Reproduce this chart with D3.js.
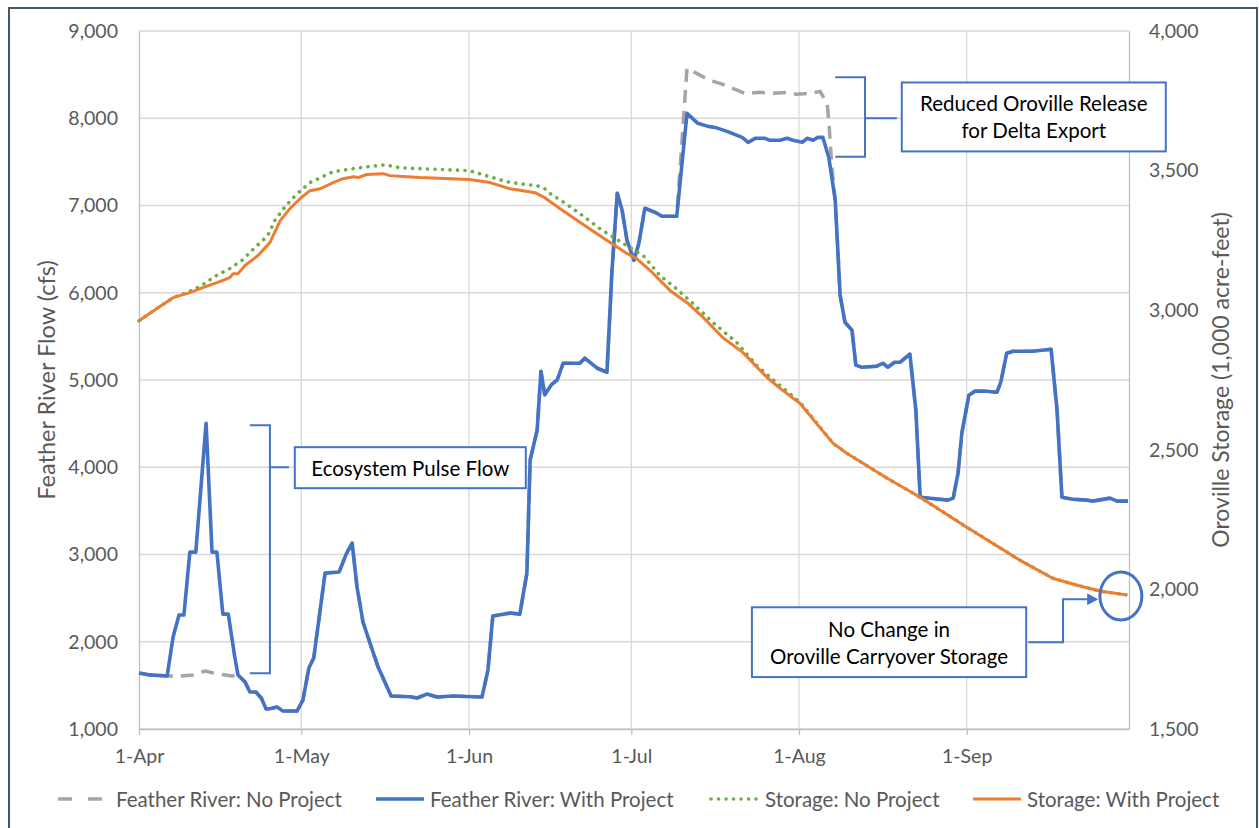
<!DOCTYPE html>
<html>
<head>
<meta charset="utf-8">
<script src="https://cdn.jsdelivr.net/npm/d3@7"></script>
<style>
  body { margin: 0; background: #fff; }
  text { font-family: Lato, "Open Sans", sans-serif; }
</style>
</head>
<body>
<svg id="chart" width="1259" height="828"></svg>
<script>
// x values are days counted from 1-Apr
const monthDays = [0, 30, 61, 91, 122, 153];
const monthLabels = ["1-Apr", "1-May", "1-Jun", "1-Jul", "1-Aug", "1-Sep"];
const flowTicks = [1000, 2000, 3000, 4000, 5000, 6000, 7000, 8000, 9000];
const storageTicks = [1500, 2000, 2500, 3000, 3500, 4000];

// Feather River flow with project (cfs)
const flowWithProject = [
  [0, 1641], [2, 1620], [5.2, 1607], [6.3, 2054], [7.4, 2306], [8.3, 2306],
  [9.4, 3027], [10.5, 3027], [12.4, 4505], [13.5, 3027], [14.4, 3027], [15.5, 2317],
  [16.5, 2317], [17.7, 1825], [18.3, 1620], [19.6, 1540], [20.5, 1424], [21.6, 1424],
  [22.6, 1355], [23.5, 1229], [24.4, 1235], [25.5, 1252], [26.6, 1206], [29.2, 1206],
  [30.3, 1332], [31.4, 1699], [32.3, 1813], [34.4, 2787], [37, 2800], [38.3, 3005],
  [39.4, 3130], [40.3, 2627], [41.4, 2226], [42.7, 1985], [44.2, 1710], [46.6, 1378],
  [50.1, 1370], [51.4, 1355], [53.2, 1400], [55.1, 1366], [58, 1378], [63.4, 1366],
  [64.5, 1676], [65.4, 2294], [68.6, 2329], [70.4, 2317], [71.7, 2787], [72.3, 4081],
  [73.6, 4425], [74.3, 5100], [75, 4830], [76.3, 4950], [77.3, 5000], [78.4, 5192],
  [81.5, 5192], [82.4, 5250], [84.7, 5135], [86.5, 5089], [87.4, 6223], [88.4, 7140],
  [89.3, 6945], [90.2, 6601], [91.5, 6372], [92.4, 6567], [93.5, 6968], [95.4, 6922],
  [96.7, 6876], [99.4, 6876], [101.3, 8056], [103.3, 7942], [105.2, 7907], [106.5, 7895],
  [108.7, 7850], [111.5, 7781], [112.6, 7724], [113.9, 7770], [115.7, 7770], [116.6, 7747],
  [118.5, 7747], [119.8, 7770], [120.9, 7747], [122.6, 7724], [123.5, 7770], [124.6, 7747],
  [125.5, 7781], [126.4, 7781], [127.5, 7552], [128.7, 7060], [129.6, 5971], [130.5, 5662],
  [131.8, 5570], [132.5, 5170], [133.6, 5147], [136.4, 5158], [137.5, 5192], [138.4, 5147],
  [139.7, 5204], [140.7, 5204], [142.5, 5296], [143.6, 4654], [144.4, 3657], [149.5, 3623],
  [150.5, 3646], [151.4, 3932], [152.1, 4391], [153.4, 4826], [154.5, 4872], [156.7, 4872],
  [158.6, 4860], [159.3, 4975], [160.4, 5307], [161.6, 5330], [165.2, 5330], [168.6, 5353],
  [169.7, 4654], [170.6, 3657], [172.6, 3634], [175.2, 3623], [176.3, 3612], [179.5, 3646],
  [180.8, 3612], [182.8, 3612]
];

// Feather River flow without project, where it differs from the project case
const flowNoProjectApr = [
  [5.2, 1607], [7.6, 1607], [10, 1620], [12.2, 1664], [14.6, 1630], [17.2, 1607], [18.3, 1620]
];
const flowNoProjectJul = [
  [99.4, 6876], [101.3, 8572], [103.1, 8514], [105.5, 8434], [107.4, 8400], [110.2, 8331],
  [112, 8285], [114.8, 8297], [116.6, 8285], [119.8, 8297], [121.6, 8274], [124, 8285],
  [125.9, 8308], [127.2, 8170], [127.5, 7976], [128.1, 7426], [128.7, 7060]
];

// Oroville storage (1,000 acre-feet)
const storageWithProject = [
  [0, 2962], [3.3, 3006], [6.3, 3045], [9.4, 3063], [11.8, 3081], [14.4, 3099],
  [16.8, 3117], [17.4, 3131], [18.3, 3131], [19.6, 3160], [22, 3196], [24.2, 3242],
  [24.8, 3267], [26.1, 3321], [27.9, 3364], [29.8, 3400], [31.6, 3428], [33.5, 3435],
  [35.9, 3457], [37.7, 3471], [39.6, 3478], [40.5, 3475], [42.1, 3486], [45.1, 3489],
  [46.4, 3482], [49.5, 3478], [51.9, 3475], [61, 3468], [64.9, 3457], [68.6, 3435],
  [71, 3428], [73.2, 3421], [75, 3403], [77.8, 3364], [80.2, 3332], [85.2, 3267],
  [90.2, 3203], [92, 3185], [94.5, 3142], [98.2, 3070], [101.3, 3027], [104.3, 2974],
  [107.9, 2902], [111.6, 2849], [116.1, 2759], [118.5, 2720], [122.2, 2666], [128.3, 2523],
  [130.9, 2487], [138.3, 2398], [144.4, 2330], [153, 2223], [162.8, 2105], [168.9, 2040],
  [173.4, 2015], [177.6, 1994], [182.6, 1980]
];
// storage without project, up to where it rejoins the project case
const storageNoProjectEarly = [
  [0, 2962], [3.3, 3006], [6.3, 3045], [8.5, 3060], [11.3, 3085], [14, 3121],
  [16.8, 3149], [19.2, 3181], [21.4, 3224], [23.8, 3267], [25.1, 3321], [27, 3371],
  [29.2, 3417], [31.6, 3457], [35.9, 3496], [39.6, 3507], [42.3, 3514], [45.5, 3521],
  [48.2, 3510], [51.9, 3507], [61, 3500], [68, 3460], [70.4, 3453], [73.6, 3446],
  [75, 3435], [76.5, 3410], [77.8, 3396], [81.5, 3346], [85.2, 3292], [89.5, 3239],
  [93.2, 3196], [96.3, 3124], [99.1, 3081], [102.4, 3024], [106.1, 2956], [110.5, 2884],
  [114.2, 2802], [116.3, 2766], [122.2, 2670]
];

const flowNoProject = flowWithProject
  .filter(d => !(d[0] >= 5.2 && d[0] <= 18.3) && !(d[0] >= 99.4 && d[0] <= 128.7))
  .concat(flowNoProjectApr, flowNoProjectJul)
  .sort((a, b) => a[0] - b[0]);
const storageNoProject = storageNoProjectEarly.concat(storageWithProject.filter(d => d[0] > 122.2));

const svg = d3.select("#chart");
const W = +svg.attr("width"), H = +svg.attr("height");
const m = { top: 31, right: 130, bottom: 99, left: 139 };

const x = d3.scaleLinear().domain([0, 183]).range([m.left, W - m.right]);
const yFlow = d3.scaleLinear().domain([1000, 9000]).range([H - m.bottom, m.top]);
const yStor = d3.scaleLinear().domain([1500, 4000]).range([H - m.bottom, m.top]);

const blue = "#4472C4", orange = "#ED7D31", green = "#70AD47", grey = "#A5A5A5";
const labelCol = "#595959";

// outer frame
svg.append("rect").attr("x", 9).attr("y", 8).attr("width", 1248).attr("height", 830)
  .attr("fill", "none").attr("stroke", "#44546A").attr("stroke-width", 2);

// grid
svg.append("g").selectAll("line").data(flowTicks).join("line")
  .attr("x1", m.left).attr("x2", W - m.right)
  .attr("y1", d => yFlow(d)).attr("y2", d => yFlow(d))
  .attr("stroke", "#d9d9d9").attr("stroke-width", 1.3);
svg.append("g").selectAll("line").data(monthDays.slice(1)).join("line")
  .attr("x1", d => x(d)).attr("x2", d => x(d))
  .attr("y1", m.top).attr("y2", H - m.bottom)
  .attr("stroke", "#d9d9d9").attr("stroke-width", 1.3);

// axes
const xAxis = svg.append("g").attr("transform", `translate(0,${H - m.bottom})`)
  .call(d3.axisBottom(x).tickValues(monthDays).tickFormat((d, i) => monthLabels[i])
    .tickSizeInner(6).tickSizeOuter(0).tickPadding(14));
const yAxisL = svg.append("g").attr("transform", `translate(${m.left},0)`)
  .call(d3.axisLeft(yFlow).tickValues(flowTicks).tickFormat(d3.format(",")).tickSize(0).tickPadding(21));
const yAxisR = svg.append("g").attr("transform", `translate(${W - m.right},0)`)
  .call(d3.axisRight(yStor).tickValues(storageTicks).tickFormat(d3.format(",")).tickSize(0).tickPadding(20));
[xAxis, yAxisL, yAxisR].forEach(g => {
  g.select(".domain").attr("stroke", "#bfbfbf").attr("stroke-width", 1.3);
  g.selectAll(".tick line").attr("stroke", "#bfbfbf").attr("stroke-width", 1.3);
  g.selectAll(".tick text").attr("fill", labelCol).style("font-size", "19.5px")
    .style("font-family", "Lato, sans-serif");
});

svg.append("text").attr("transform", `translate(46,${(m.top + H - m.bottom) / 2}) rotate(-90)`)
  .attr("text-anchor", "middle").attr("dominant-baseline", "central")
  .attr("fill", labelCol).style("font-size", "23.5px").text("Feather River Flow (cfs)");
svg.append("text").attr("transform", `translate(1220,${(m.top + H - m.bottom) / 2}) rotate(-90)`)
  .attr("text-anchor", "middle").attr("dominant-baseline", "central")
  .attr("fill", labelCol).style("font-size", "23px").text("Oroville Storage (1,000 acre-feet)");

// series
const flowLine = d3.line().x(d => x(d[0])).y(d => yFlow(d[1]));
const storLine = d3.line().x(d => x(d[0])).y(d => yStor(d[1]));

svg.append("path").datum(flowNoProject).attr("d", flowLine)
  .attr("fill", "none").attr("stroke", grey).attr("stroke-width", 3.5)
  .attr("stroke-dasharray", "13 8").attr("stroke-linejoin", "round");
svg.append("path").datum(flowWithProject).attr("d", flowLine)
  .attr("fill", "none").attr("stroke", blue).attr("stroke-width", 3.6)
  .attr("stroke-linejoin", "round");
svg.append("path").datum(storageNoProject).attr("d", storLine)
  .attr("fill", "none").attr("stroke", green).attr("stroke-width", 3.6)
  .attr("stroke-dasharray", "0.1 7.4").attr("stroke-linecap", "round");
svg.append("path").datum(storageWithProject).attr("d", storLine)
  .attr("fill", "none").attr("stroke", orange).attr("stroke-width", 3)
  .attr("stroke-linejoin", "round");

// callouts
const note = svg.append("g").attr("fill", "none").attr("stroke", blue).attr("stroke-width", 2);
function box(x0, y0, x1, y1, lines, lh) {
  note.append("rect").attr("x", x0).attr("y", y0).attr("width", x1 - x0).attr("height", y1 - y0)
    .attr("fill", "#fff");
  const cy = (y0 + y1) / 2 - (lines.length - 1) * lh / 2;
  lines.forEach((t, i) => {
    svg.append("text").attr("x", (x0 + x1) / 2).attr("y", cy + i * lh)
      .attr("text-anchor", "middle").attr("dominant-baseline", "central")
      .attr("fill", "#000").style("font-size", "20.5px").text(t);
  });
}

// pulse flow bracket
const pb = { left: x(20.5), mid: x(24.2), tip: x(27.7), top: yFlow(4480), bot: yFlow(1640), c: yFlow(4000) };
note.append("path").attr("d",
  `M${pb.left},${pb.top}H${pb.mid}V${pb.bot}H${pb.left}M${pb.mid},${pb.c}H${pb.tip}`);
box(x(28.8), yFlow(4230), x(71.5), yFlow(3760), ["Ecosystem Pulse Flow"], 0);

// reduced release bracket
const rb = { left: x(128.7), mid: x(134.2), tip: x(140.1), top: yFlow(8470), bot: yFlow(7560), c: yFlow(8000) };
note.append("path").attr("d",
  `M${rb.left},${rb.top}H${rb.mid}V${rb.bot}H${rb.left}M${rb.mid},${rb.c}H${rb.tip}`);
box(x(141), yFlow(8410), x(189.8), yFlow(7620), ["Reduced Oroville Release", "for Delta Export"], 27);

// carryover storage
const cx0 = x(164.4), cyA = yStor(1811), cxB = x(170.8), cyB = yStor(1965), cxTip = x(177.3);
note.append("path").attr("d", `M${cx0},${cyA}H${cxB}V${cyB}H${cxTip - 9}`);
note.append("path").attr("d", `M${cxTip},${cyB}l-11,-6v12z`).attr("fill", blue).attr("stroke", "none");
note.append("ellipse").attr("cx", x(181.5)).attr("cy", yStor(1976)).attr("rx", 21).attr("ry", 24)
  .attr("stroke-width", 3);
box(x(113.3), yStor(1936), x(164), yStor(1686), ["No Change in", "Oroville Carryover Storage"], 27);

// legend
const legendItems = [
  { name: "Feather River: No Project", color: grey, x: 58, dash: "14 16", w: 3.5, cap: "butt" },
  { name: "Feather River: With Project", color: blue, x: 376, dash: null, w: 3.5, cap: "butt" },
  { name: "Storage: No Project", color: green, x: 711, dash: "0.1 7.4", w: 3.6, cap: "round" },
  { name: "Storage: With Project", color: orange, x: 973, dash: null, w: 3.2, cap: "butt" }
];
const lg = svg.append("g").attr("transform", "translate(0,799)");
legendItems.forEach(it => {
  lg.append("line").attr("x1", it.x).attr("x2", it.x + 48).attr("y1", 0).attr("y2", 0)
    .attr("stroke", it.color).attr("stroke-width", it.w)
    .attr("stroke-dasharray", it.dash).attr("stroke-linecap", it.cap);
  lg.append("text").attr("x", it.x + (it.dash === "14 16" ? 58 : 54)).attr("y", 0)
    .attr("dominant-baseline", "central").attr("fill", labelCol)
    .style("font-size", "20.5px").text(it.name);
});
</script>
</body>
</html>
